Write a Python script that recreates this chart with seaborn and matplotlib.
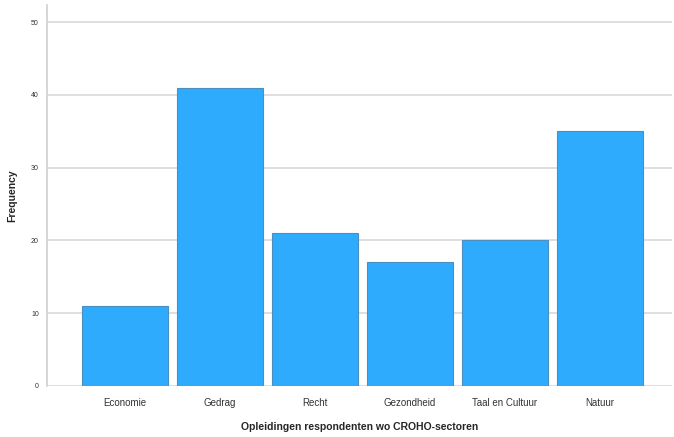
import pandas as pd
import matplotlib.pyplot as plt
import seaborn as sns

# CROHO sectoren en aantallen
sectoren = ["Economie", "Gedrag", "Recht", "Gezondheid", "Taal en Cultuur", "Natuur"]
aantallen = [11, 41, 21, 17, 20, 35]
y_ticks = [0, 10, 20, 30, 40, 50]

df = pd.DataFrame({"Sector": sectoren, "Frequency": aantallen})

sns.set_style("white")
plt.rcParams["font.family"] = ["Liberation Sans", "DejaVu Sans"]

fig = plt.figure(figsize=(6.74, 4.37), dpi=100)
ax = fig.add_axes([0.07, 0.117, 0.927, 0.872])

sns.barplot(data=df, x="Sector", y="Frequency", color="#2eabfd",
            width=0.9, edgecolor="#4a8fc0", linewidth=0.8, saturation=1, ax=ax)

ax.set_ylim(0, 52.4)
ax.set_xlim(-0.82, 5.76)
ax.set_yticks(y_ticks)
ax.set_yticklabels([str(t) for t in y_ticks], fontsize=5)
ax.tick_params(axis="x", labelsize=7, length=0, pad=9, colors="#333333")
ax.tick_params(axis="y", length=0, pad=6, colors="#333333")
ax.yaxis.grid(True, color="#d9d9d9", linewidth=1.2)
ax.set_axisbelow(True)

for s in ["top", "right", "bottom"]:
    ax.spines[s].set_visible(False)
ax.spines["left"].set_color("#d0d0d0")
ax.spines["left"].set_linewidth(1.2)

ax.set_xlabel("Opleidingen respondenten wo CROHO-sectoren", fontsize=7.5, fontweight="bold", labelpad=10)
ax.set_ylabel("Frequency", fontsize=7.5, fontweight="bold", labelpad=10)

plt.savefig("out.png", dpi=100)
